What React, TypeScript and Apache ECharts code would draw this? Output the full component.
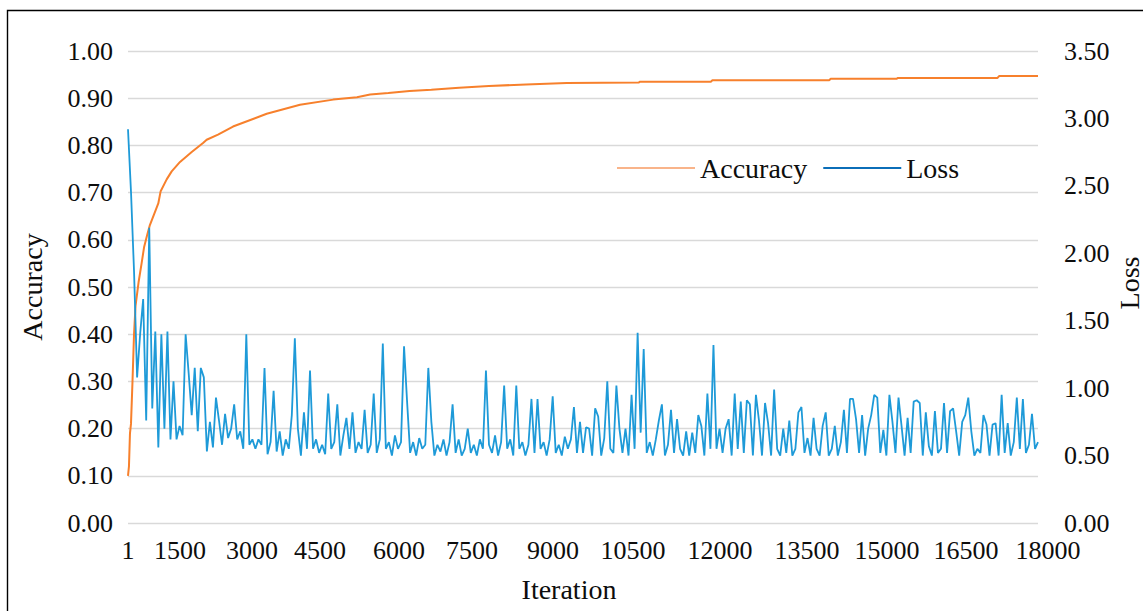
import React, { useEffect, useRef } from "react";
import * as echarts from "echarts";

// ---- data ----
const xTickLabels = ["1", "1500", "3000", "4500", "6000", "7500", "9000", "10500", "12000", "13500", "15000", "16500", "18000"];
// iteration value at which each tick label sits (labels are spaced as in the reference)
const xTickAt = [1, 1029, 2454, 3799, 5361, 6805, 8407, 9990, 11711, 13431, 15014, 16576, 18000];

const accIter = [
  1, 20, 40, 60, 90, 120, 150, 210, 270, 320, 380, 430, 520, 600, 647, 766, 865, 1030, 1261, 1485, 1557,
  1781, 2078, 2745, 3403, 4060, 4530, 4790, 5150, 5570, 6000, 6550, 7140, 7875, 8680, 10100, 10130, 11530,
  11560, 13870, 13900, 15200, 15230, 17200, 17230, 18000,
];
const accValues = [
  0.1, 0.12, 0.19, 0.21, 0.3, 0.4, 0.46, 0.51, 0.55, 0.585, 0.61, 0.63, 0.655, 0.677, 0.703, 0.728, 0.745, 0.765,
  0.786, 0.805, 0.812, 0.823, 0.84, 0.867, 0.886, 0.897, 0.902, 0.908, 0.911, 0.915, 0.918, 0.922, 0.926, 0.929,
  0.932, 0.933, 0.935, 0.935, 0.938, 0.938, 0.941, 0.941, 0.943, 0.943, 0.947, 0.947,
];

const lossStep = 60; // iterations between logged loss values
const lossValues = [
  2.92, 2.45, 1.86, 1.08, 1.4, 1.66, 0.76, 2.19, 0.85, 1.42,
  0.56, 1.4, 0.7, 1.42, 0.62, 1.05, 0.62, 0.72, 0.65, 1.4,
  1.11, 0.8, 1.15, 0.68, 1.15, 1.08, 0.53, 0.75, 0.56, 0.93,
  0.76, 0.58, 0.81, 0.63, 0.7, 0.88, 0.62, 0.68, 0.55, 1.4,
  0.58, 0.62, 0.55, 0.62, 0.58, 1.15, 0.51, 0.6, 0.98, 0.53,
  0.68, 0.5, 0.62, 0.55, 0.8, 1.37, 0.7, 0.5, 0.82, 0.55,
  1.13, 0.55, 0.62, 0.52, 0.58, 0.51, 0.96, 0.55, 0.6, 0.88,
  0.5, 0.65, 0.78, 0.55, 0.82, 0.52, 0.6, 0.55, 0.84, 0.52,
  0.58, 0.96, 0.52, 0.62, 1.33, 0.55, 0.6, 0.5, 0.65, 0.55,
  0.6, 1.31, 0.9, 0.52, 0.6, 0.5, 0.63, 0.55, 0.58, 1.15,
  0.75, 0.5, 0.58, 0.53, 0.62, 0.5, 0.6, 0.88, 0.52, 0.62,
  0.5, 0.55, 0.7, 0.52, 0.58, 0.5, 0.62, 0.55, 1.13, 0.58,
  0.52, 0.65, 0.5, 0.6, 1.02, 0.55, 0.62, 0.5, 1.02, 0.55,
  0.6, 0.5, 0.58, 0.92, 0.52, 0.92, 0.55, 0.6, 0.5, 0.62,
  0.94, 0.52, 0.58, 0.5, 0.64, 0.55, 0.62, 0.86, 0.52, 0.75,
  0.52, 0.71, 0.7, 0.5, 0.85, 0.79, 0.5, 0.63, 1.05, 0.55,
  0.52, 1.02, 0.7, 0.52, 0.7, 0.5, 0.95, 0.55, 1.41, 0.67,
  1.29, 0.52, 0.6, 0.5, 0.62, 0.76, 0.88, 0.5, 0.58, 0.84,
  0.52, 0.77, 0.55, 0.5, 0.68, 0.5, 0.67, 0.52, 0.8, 0.72,
  0.5, 0.96, 0.55, 1.32, 0.55, 0.7, 0.52, 0.7, 0.77, 0.5,
  0.96, 0.55, 0.9, 0.52, 0.91, 0.88, 0.5, 0.95, 0.76, 0.5,
  0.89, 0.74, 0.5, 0.99, 0.55, 0.5, 0.7, 0.52, 0.76, 0.5,
  0.55, 0.82, 0.86, 0.52, 0.63, 0.5, 0.78, 0.55, 0.5, 0.72,
  0.82, 0.5, 0.55, 0.72, 0.5, 0.6, 0.84, 0.52, 0.92, 0.92,
  0.77, 0.52, 0.8, 0.5, 0.7, 0.8, 0.95, 0.93, 0.52, 0.69,
  0.5, 0.95, 0.75, 0.52, 0.93, 0.72, 0.5, 0.78, 0.52, 0.9,
  0.91, 0.89, 0.5, 0.82, 0.57, 0.5, 0.83, 0.52, 0.55, 0.89,
  0.52, 0.83, 0.85, 0.68, 0.5, 0.75, 0.8, 0.93, 0.68, 0.5,
  0.55, 0.52, 0.8, 0.73, 0.5, 0.73, 0.74, 0.5, 0.95, 0.52,
  0.74, 0.5, 0.6, 0.93, 0.55, 0.92, 0.52, 0.58, 0.81, 0.55,
  0.6,
];

const FONT = "'Liberation Serif', 'Times New Roman', serif";
const TEXT = "#0d0d0d";

export default function App() {
  const ref = useRef<HTMLDivElement>(null);

  useEffect(() => {
    document.body.style.margin = "0";
    if (!ref.current) return;
    const chart = echarts.init(ref.current, null, { renderer: "svg" });

    const accData = accIter.map((it, i) => [it, accValues[i]]);
    const lossData = lossValues.map((v, i) => [Math.min(1 + i * lossStep, 18000), v]);

    const option: any = {
      animation: false,
      backgroundColor: "#ffffff",
      textStyle: { fontFamily: FONT },
      grid: { left: 128, right: 105, top: 51, bottom: 88, containLabel: false, outerBoundsMode: "none" },
      legend: {
        left: 617,
        top: 153,
        padding: 0,
        itemGap: 16,
        itemWidth: 78,
        itemHeight: 2,
        icon: "rect",
        textStyle: { fontFamily: FONT, fontSize: 28, color: TEXT, lineHeight: 30 },
        data: [
          { name: "Accuracy", itemStyle: { color: "#F9B48A" } },
          { name: "Loss", itemStyle: { color: "#0B6EB8" } },
        ],
      },
      xAxis: {
        type: "value",
        min: 1,
        max: 18000,
        axisLine: { show: false },
        axisTick: { show: false },
        splitLine: { show: false },
        axisLabel: {
          customValues: xTickAt,
          margin: 14,
          fontFamily: FONT,
          fontSize: 26,
          color: TEXT,
          formatter: (v: number) => {
            const idx = xTickAt.indexOf(v);
            const label = idx >= 0 ? xTickLabels[idx] : "";
            return idx === xTickAt.length - 1 ? "{s|" + label + "}" : label;
          },
          rich: {
            s: { fontFamily: FONT, fontSize: 26, color: TEXT, padding: [0, 0, 0, 20] },
          },
        },
        name: "Iteration",
        nameLocation: "middle",
        nameGap: 52,
        nameMoveOverlap: false,
        nameTextStyle: { fontFamily: FONT, fontSize: 28, color: TEXT, padding: [0, 28, 0, 0] },
      },
      yAxis: [
        {
          type: "value",
          min: 0,
          max: 1,
          interval: 0.1,
          axisLine: { show: false },
          axisTick: { show: false },
          splitLine: { show: true, lineStyle: { color: "#d9d9d9", width: 1.3 } },
          axisLabel: {
            margin: 15,
            fontFamily: FONT,
            fontSize: 26,
            color: TEXT,
            formatter: (v: number) => v.toFixed(2),
          },
          name: "Accuracy",
          nameLocation: "middle",
          nameGap: 82,
          nameMoveOverlap: false,
          nameTextStyle: { fontFamily: FONT, fontSize: 28, color: TEXT },
        },
        {
          type: "value",
          position: "right",
          min: 0,
          max: 3.5,
          interval: 0.5,
          axisLine: { show: false },
          axisTick: { show: false },
          splitLine: { show: false },
          axisLabel: {
            margin: 26,
            fontFamily: FONT,
            fontSize: 26,
            color: TEXT,
            formatter: (v: number) => v.toFixed(2),
          },
        },
      ],
      series: [
        {
          name: "Accuracy",
          type: "line",
          yAxisIndex: 0,
          data: accData,
          symbol: "none",
          showSymbol: false,
          lineStyle: { color: "#F7802C", width: 2 },
          itemStyle: { color: "#F7802C" },
          z: 2,
        },
        {
          name: "Loss",
          type: "line",
          yAxisIndex: 1,
          data: lossData,
          symbol: "none",
          showSymbol: false,
          lineStyle: { color: "#1E9AD8", width: 1.8 },
          itemStyle: { color: "#1E9AD8" },
          z: 3,
        },
      ],
      graphic: [
        {
          type: "rect",
          shape: { x: 7.5, y: 10.5, width: 1200, height: 700 },
          style: { fill: "none", stroke: "#000000", lineWidth: 1.4 },
          silent: true,
        },
        {
          type: "text",
          x: 1143,
          y: 283,
          rotation: Math.PI / 2,
          silent: true,
          style: {
            text: "Loss",
            fontFamily: FONT,
            fontSize: 28,
            fill: TEXT,
            align: "center",
            verticalAlign: "bottom",
          },
        },
      ],
    };

    chart.setOption(option);
    return () => chart.dispose();
  }, []);

  return <div ref={ref} style={{ width: 1143, height: 611 }} />;
}
